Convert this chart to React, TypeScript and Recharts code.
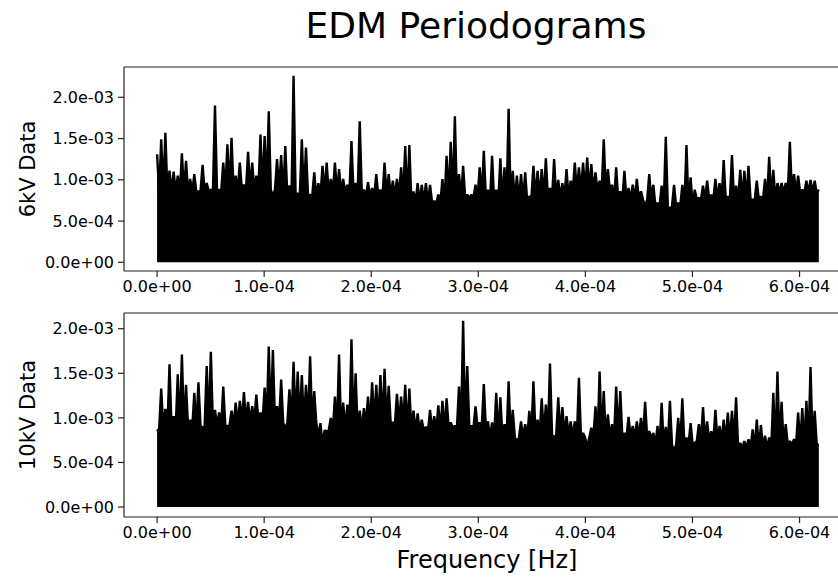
import React from 'react';
import { ComposedChart, Area, XAxis, YAxis, ReferenceLine } from 'recharts';

const FONT = '"DejaVu Sans", Verdana, sans-serif';

// periodogram peak envelope, in units of 1e-4
// (one value per ~3.9e-6 Hz, from 0 to 6.18e-4 Hz)
const TOP_PEAKS = [
  13.1, 14.9, 15.7, 11.1, 11.0, 10.5, 13.2, 12.3, 10.1, 10.7,
  8.6, 11.8, 9.6, 8.8, 19.0, 8.8, 12.1, 14.3, 15.1, 10.5,
  12.1, 9.4, 13.4, 12.1, 10.5, 15.5, 15.3, 18.3, 8.0, 12.5,
  13.0, 14.1, 9.3, 22.6, 8.4, 14.9, 13.9, 8.2, 10.9, 9.6,
  11.7, 12.1, 10.1, 12.1, 11.3, 10.1, 9.4, 14.7, 9.6, 17.1,
  8.8, 9.7, 9.0, 10.7, 8.8, 12.1, 10.7, 9.9, 10.1, 11.5,
  14.1, 14.2, 8.6, 9.6, 9.4, 9.6, 9.4, 7.4, 8.2, 10.1,
  12.9, 14.6, 17.7, 10.7, 11.7, 8.2, 8.2, 9.4, 11.5, 13.5,
  8.8, 12.9, 8.8, 12.6, 11.5, 18.6, 11.1, 10.5, 10.7, 10.9,
  8.0, 11.7, 11.1, 11.3, 12.6, 9.0, 12.5, 10.0, 9.6, 11.3,
  9.9, 12.1, 11.5, 12.1, 12.7, 11.9, 10.9, 9.9, 14.9, 11.3,
  9.4, 11.5, 8.6, 11.1, 9.0, 9.4, 10.1, 8.6, 6.8, 10.7,
  9.4, 7.2, 9.3, 15.2, 6.4, 9.4, 7.2, 9.4, 14.2, 10.3,
  8.8, 7.8, 9.3, 9.9, 8.2, 10.1, 9.6, 12.4, 8.0, 13.0,
  9.3, 11.2, 11.1, 11.7, 7.6, 9.9, 8.0, 10.1, 12.8, 11.2,
  9.6, 9.6, 9.6, 14.6, 10.7, 10.5, 8.8, 9.9, 10.0, 9.9,
  8.8,
];

const BOTTOM_PEAKS = [
  8.5, 13.3, 11.0, 16.0, 10.2, 14.9, 17.1, 13.7, 9.8, 12.8,
  14.0, 8.9, 15.8, 17.4, 10.9, 10.6, 13.5, 9.1, 10.8, 11.7,
  11.9, 12.9, 11.8, 11.3, 12.6, 10.6, 13.4, 18.0, 17.6, 11.3,
  14.3, 8.9, 13.2, 16.3, 15.2, 14.8, 13.7, 16.9, 13.0, 8.0,
  7.0, 8.5, 10.0, 12.4, 17.1, 11.7, 11.5, 18.8, 15.0, 10.8,
  11.1, 12.4, 14.0, 13.7, 14.8, 15.5, 13.6, 9.5, 12.7, 12.4,
  13.7, 13.3, 10.8, 10.5, 9.8, 9.0, 10.9, 10.2, 11.4, 11.9,
  12.2, 9.5, 9.1, 13.5, 20.9, 15.8, 9.1, 11.3, 9.5, 13.8,
  9.6, 9.5, 12.8, 12.3, 9.3, 14.1, 10.9, 7.4, 9.6, 9.3,
  10.8, 14.1, 9.8, 12.2, 11.5, 16.1, 7.8, 12.3, 11.2, 10.2,
  9.6, 9.6, 14.5, 8.3, 6.7, 8.9, 11.3, 15.2, 13.0, 10.4,
  9.3, 13.5, 13.0, 8.3, 10.1, 9.1, 9.6, 10.0, 11.8, 8.5,
  8.3, 9.1, 11.7, 9.0, 11.9, 6.3, 10.0, 12.2, 7.8, 9.4,
  7.2, 9.3, 11.2, 9.6, 8.5, 10.9, 9.1, 9.8, 10.6, 10.8,
  12.3, 7.2, 7.4, 7.6, 8.7, 9.8, 9.2, 8.0, 7.8, 12.8,
  15.2, 11.8, 9.3, 7.4, 7.6, 10.6, 11.1, 11.9, 15.7, 10.8,
  7.0,
];

// level of the solid band between the spikes, one value per 10 peaks (×1e-4)
const TOP_FLOOR = [8.5, 8.6, 8.8, 8.0, 8.4, 8.0, 7.2, 7.8, 7.4, 7.8, 8.6, 7.6, 6.8, 7.6, 7.6, 8.4];
const BOTTOM_FLOOR = [8.8, 9.1, 9.6, 9.4, 8.6, 9.3, 8.5, 8.9, 7.8, 8.1, 7.8, 7.8, 7.0, 7.4, 6.6, 7.0];

const UNIT = 1e-4;
const FREQ_MAX = 6.18e-4;
const PEAKS_PER_FLOOR = 10;

const X_TICKS = [0, 1e-4, 2e-4, 3e-4, 4e-4, 5e-4, 6e-4];
const Y_TICKS = [0, 5e-4, 1e-3, 1.5e-3, 2e-3];
const X_DOMAIN = [-0.309e-4, 6.49e-4];
const TOP_DOMAIN = [-0.105e-3, 2.367e-3];
const BOTTOM_DOMAIN = [-0.1116e-3, 2.176e-3];

// peaks alternate with the band level in between
const toSeries = (peaks: number[], floor: number[]) => {
  const step = FREQ_MAX / (peaks.length - 1);
  const rows: { f: number; p: number }[] = [];
  peaks.forEach((v, i) => {
    rows.push({ f: i * step, p: v * UNIT });
    if (i < peaks.length - 1) {
      const lvl = floor[Math.min(Math.floor(i / PEAKS_PER_FLOOR), floor.length - 1)];
      rows.push({ f: (i + 0.5) * step, p: lvl * UNIT });
    }
  });
  return rows;
};

const sci = (v: number) => {
  if (v === 0) return '0.0e+00';
  const [m, e] = v.toExponential(1).split('e');
  const n = parseInt(e, 10);
  return `${m}e${n < 0 ? '-' : '+'}${String(Math.abs(n)).padStart(2, '0')}`;
};

const tickStyle = { fill: '#000', fontSize: 16, fontFamily: FONT };
const spine = { stroke: '#222', strokeWidth: 1.2 };

const Panel: React.FC<{ peaks: number[]; floor: number[]; domain: number[] }> = ({ peaks, floor, domain }) => (
  <ComposedChart width={852} height={239} data={toSeries(peaks, floor)} margin={{ top: 5, right: 0, bottom: 0, left: 0 }}>
    <XAxis
      type="number"
      dataKey="f"
      domain={X_DOMAIN}
      allowDataOverflow
      ticks={X_TICKS}
      tickFormatter={sci}
      tick={tickStyle}
      tickSize={6}
      tickMargin={4}
      axisLine={spine}
      tickLine={spine}
      height={30}
      interval={0}
    />
    <YAxis
      type="number"
      domain={domain}
      allowDataOverflow
      ticks={Y_TICKS}
      tickFormatter={sci}
      tick={tickStyle}
      tickSize={6}
      tickMargin={4}
      axisLine={spine}
      tickLine={spine}
      width={124}
      interval={0}
    />
    <ReferenceLine y={domain[1]} stroke="#222" strokeWidth={1.2} />
    <Area
      type="linear"
      dataKey="p"
      baseValue={0}
      stroke="#000"
      strokeWidth={2.4}
      strokeLinejoin="bevel"
      fill="#000"
      fillOpacity={1}
      dot={false}
      activeDot={false}
      isAnimationActive={false}
    />
  </ComposedChart>
);

export default function App() {
  return (
    <div style={{ position: 'absolute', left: 0, top: 0, width: 838, height: 578, overflow: 'hidden', background: '#fff', fontFamily: FONT }}>
      <div style={{ position: 'absolute', left: 0, top: 62 }}>
        <Panel peaks={TOP_PEAKS} floor={TOP_FLOOR} domain={TOP_DOMAIN} />
      </div>
      <div style={{ position: 'absolute', left: 0, top: 308 }}>
        <Panel peaks={BOTTOM_PEAKS} floor={BOTTOM_FLOOR} domain={BOTTOM_DOMAIN} />
      </div>
      <svg width={838} height={578} style={{ position: 'absolute', left: 0, top: 0, pointerEvents: 'none' }}>
        <text x={476} y={38} textAnchor="middle" fontSize={36} fontFamily={FONT} fill="#000">EDM Periodograms</text>
        <text x={487} y={568} textAnchor="middle" fontSize={24} fontFamily={FONT} fill="#000">Frequency [Hz]</text>
        <text transform="translate(35,169) rotate(-90)" textAnchor="middle" fontSize={21} fontFamily={FONT} fill="#000">6kV Data</text>
        <text transform="translate(35,415) rotate(-90)" textAnchor="middle" fontSize={21} fontFamily={FONT} fill="#000">10kV Data</text>
      </svg>
    </div>
  );
}
